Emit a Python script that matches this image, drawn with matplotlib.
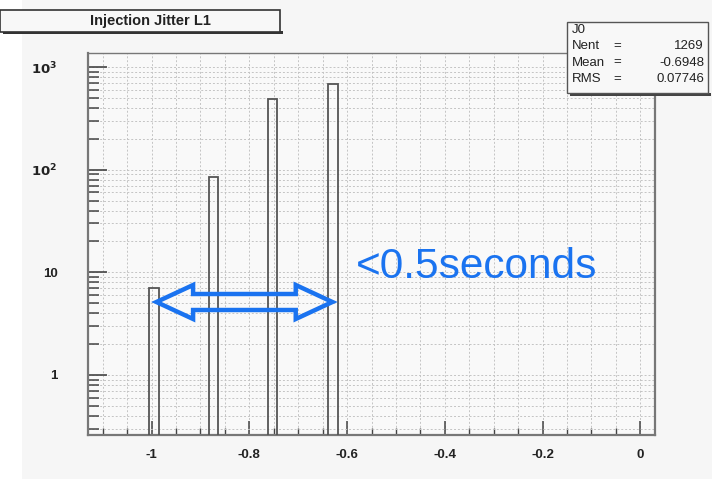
import numpy as np
import matplotlib
matplotlib.use("Agg")
import matplotlib.pyplot as plt
import matplotlib.patches as patches
from matplotlib.ticker import FixedLocator, MultipleLocator, LogLocator, NullFormatter

# --- data ---
bin_centers = [-0.995, -0.873, -0.752, -0.629]
counts = [7, 84, 490, 688]
bin_width = 0.019

title = "Injection Jitter L1"
stats_name = "J0"
stats_rows = [("Nent", "1269"), ("Mean", "-0.6948"), ("RMS", "0.07746")]
x_ticks = [-1, -0.8, -0.6, -0.4, -0.2, 0]
x_labels = ["-1", "-0.8", "-0.6", "-0.4", "-0.2", "0"]
y_ticks = [1, 10, 100, 1000]
y_labels = ["1", "10", r"$\mathbf{10^{2}}$", r"$\mathbf{10^{3}}$"]
note = "<0.5seconds"

W, H = 712, 479
fig = plt.figure(figsize=(W / 100, H / 100), dpi=100)
fig.patch.set_facecolor("white")

# light grey canvas behind the pad
fig.add_artist(patches.Rectangle((22 / W, 0), 1 - 22 / W, 1, transform=fig.transFigure,
                                 fc="#f6f6f6", ec="none", zorder=-10))

ax = fig.add_axes([88 / W, 1 - 435 / H, (655 - 88) / W, (435 - 53) / H])
ax.set_facecolor("#f9f9f9")
ax.set_yscale("log")
ax.set_xlim(-1.13, 0.03)
ax.set_ylim(0.26, 1370)

ax.bar(bin_centers, counts, width=bin_width, fill=False, edgecolor="#555555",
       linewidth=1.3, zorder=3)

# ticks
ax.xaxis.set_major_locator(FixedLocator(x_ticks))
ax.set_xticklabels(x_labels)
ax.xaxis.set_minor_locator(MultipleLocator(0.05))
ax.yaxis.set_major_locator(FixedLocator(y_ticks))
ax.set_yticklabels(y_labels)
ax.yaxis.set_minor_locator(LogLocator(base=10, subs=np.arange(2, 10)))
ax.yaxis.set_minor_formatter(NullFormatter())
ax.tick_params(which="both", direction="in", colors="#444444", labelcolor="#222222",
               labelsize=9.5)
ax.tick_params(axis="y", which="major", length=14, width=1.2, pad=22)
ax.tick_params(axis="y", which="minor", length=8, width=1.1)
ax.tick_params(axis="x", which="major", length=10, width=1.1, pad=10)
ax.tick_params(axis="x", which="minor", length=5, width=1.0)
for lab in ax.get_xticklabels() + ax.get_yticklabels():
    lab.set_fontweight("bold")
    lab.set_family("Liberation Sans")

ax.grid(which="both", ls=(0, (2, 2)), color="#c4c4c4", lw=0.7)
ax.set_axisbelow(True)
for side, sp in ax.spines.items():
    sp.set_color("#777777")
    sp.set_linewidth(1.6 if side in ("left", "bottom", "right") else 1.0)

# hollow double arrow (x in data, y in axes fraction)
y0 = (435 - 302) / 382
hh = 17 / 382
sh = 8 / 382
xl, xr = -0.99, -0.63
hl = 0.075
arrow = [(xl, y0), (xl + hl, y0 + hh), (xl + hl, y0 + sh), (xr - hl, y0 + sh),
         (xr - hl, y0 + hh), (xr, y0), (xr - hl, y0 - hh), (xr - hl, y0 - sh),
         (xl + hl, y0 - sh), (xl + hl, y0 - hh)]
ax.add_patch(patches.Polygon(arrow, closed=True, fill=False, ec="#1a73f0", lw=3.2,
                             joinstyle="miter", transform=ax.get_xaxis_transform(),
                             zorder=5, clip_on=False))
ax.text(-0.582, (435 - 267) / 382, note, transform=ax.get_xaxis_transform(),
        ha="left", va="center", fontsize=30.5, color="#1a73f0",
        family="Liberation Sans", zorder=6)

# title box
fig.add_artist(patches.Rectangle((3 / W, 1 - 34 / H), 280 / W, 3 / H, transform=fig.transFigure,
                                 fc="#333333", ec="none"))
fig.add_artist(patches.Rectangle((0, 1 - 32 / H), 280 / W, 22 / H, transform=fig.transFigure,
                                 fc="#f8f8f8", ec="#333333", lw=1.2))
fig.text(150 / W, 1 - 21 / H, title, ha="center", va="center", fontsize=10.5,
         fontweight="bold", family="Liberation Sans", color="#222222")

# stats box
bx0, by0, bx1, by1 = 567, 22, 708, 93
fig.add_artist(patches.Rectangle(((bx0 + 3) / W, 1 - (by1 + 3) / H), (bx1 - bx0) / W, 3 / H,
                                 transform=fig.transFigure, fc="#444444", ec="none", zorder=7))
fig.add_artist(patches.Rectangle((bx0 / W, 1 - by1 / H), (bx1 - bx0) / W, (by1 - by0) / H,
                                 transform=fig.transFigure, fc="#f8f8f8", ec="#555555",
                                 lw=1.0, zorder=8))
fig.text(572 / W, 1 - 30 / H, stats_name, ha="left", va="center", fontsize=9.5,
         family="Liberation Sans", color="#222222", zorder=9)
for i, (k, v) in enumerate(stats_rows):
    yy = 1 - (46 + 16.5 * i) / H
    fig.text(572 / W, yy, k, ha="left", va="center", fontsize=9.5,
             family="Liberation Sans", color="#222222", zorder=9)
    fig.text(613 / W, yy, "=", ha="left", va="center", fontsize=9.5,
             family="Liberation Sans", color="#222222", zorder=9)
    fig.text(704 / W, yy, v, ha="right", va="center", fontsize=9.5,
             family="Liberation Sans", color="#222222", zorder=9)

fig.savefig("out.png", dpi=100, facecolor=fig.get_facecolor())
